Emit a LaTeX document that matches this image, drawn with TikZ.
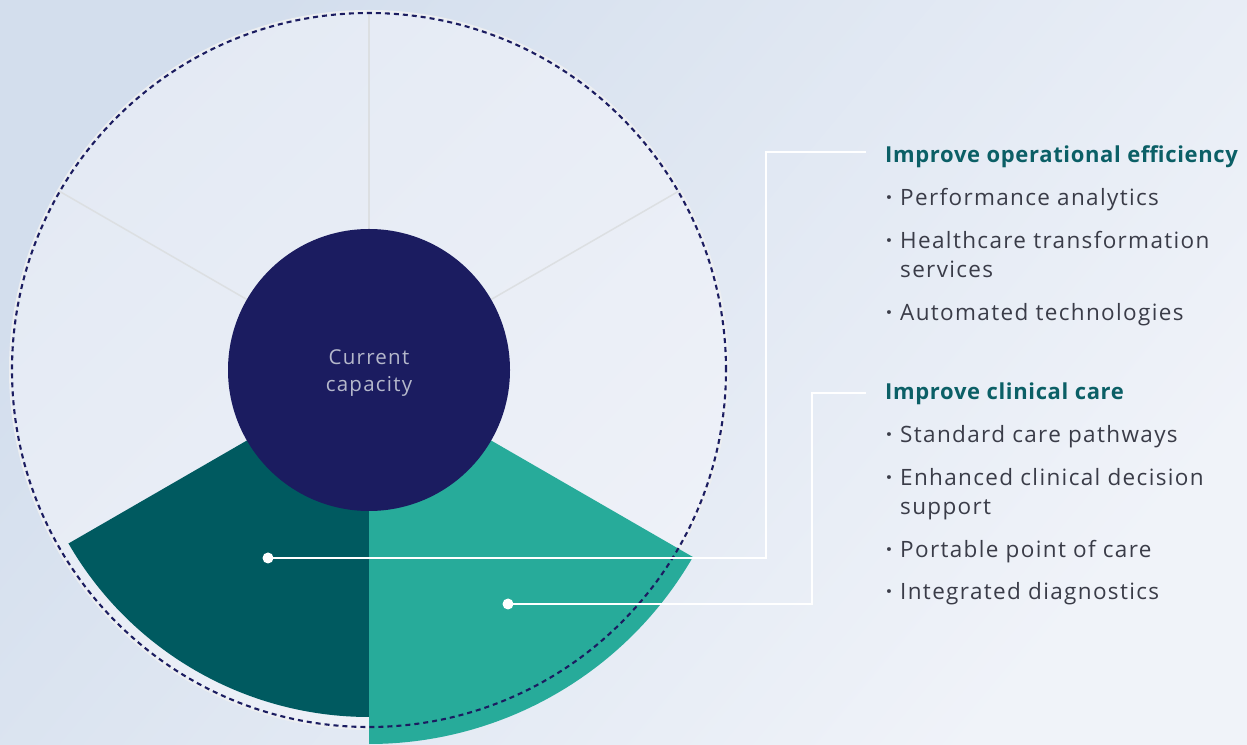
\documentclass[tikz,border=0pt]{standalone}
\usepackage{fontspec}
\usetikzlibrary{calc}
\setmainfont{Open Sans}
\newfontfamily\itemfont{Open Sans}[LetterSpace=6]
\newfontfamily\headfont{Open Sans}[LetterSpace=3]
\definecolor{bgA}{HTML}{D3DEED}
\definecolor{bgB}{HTML}{F0F3F9}
\definecolor{discA}{HTML}{E4EAF4}
\definecolor{discB}{HTML}{EEF1F8}
\definecolor{discedge}{HTML}{ECEEF1}
\definecolor{spoke}{HTML}{DCDFE2}
\definecolor{navy}{HTML}{1B1C60}
\definecolor{dteal}{HTML}{005A60}
\definecolor{lteal}{HTML}{27AB9A}
\definecolor{head}{HTML}{0B5F66}
\definecolor{itemc}{HTML}{3A3C48}
\definecolor{captxt}{HTML}{B5B8CB}
\tikzset{
  conn/.style={white, line width=2.4pt},
  dotnode/.style={circle, fill=white, inner sep=0pt, minimum size=11pt},
  headnode/.style={anchor=base west, inner sep=0pt, text=head, font=\headfont\fontsize{22}{26}\selectfont\bfseries},
  itemnode/.style={anchor=base west, inner sep=0pt, text=itemc, font=\itemfont\fontsize{22.5}{26}\selectfont},
  bulnode/.style={anchor=base, inner sep=0pt, text=itemc, font=\itemfont\fontsize{22.5}{26}\selectfont\bfseries},
}
\begin{document}
\begin{tikzpicture}[x=1pt,y=1pt]
\useasboundingbox (0,0) rectangle (1247,744);
\shade[top color=bgA, bottom color=bgB, shading angle=50] (0,0) rectangle (1247,744);
\coordinate (C) at (369,374);
% pale disc
\shade[top color=discA, bottom color=discB, shading angle=45, draw=discedge, line width=2pt] (C) circle[radius=359];
% spokes
\foreach \a in {90,30,150}{
  \draw[spoke, line width=1.5pt] ($(C)+(\a:141)$) -- ($(C)+(\a:358)$);
}
% sectors
\fill[dteal] (C) -- ++(210:347) arc[start angle=210, end angle=270, radius=347] -- cycle;
\fill[lteal] (C) -- ++(270:374) arc[start angle=270, end angle=330, radius=374] -- cycle;
% dashed ring
\draw[navy, line width=2.1pt, dash pattern=on 5pt off 4pt] (C) circle[radius=357];
% centre
\node[circle, fill=navy, minimum size=282pt, inner sep=0pt] (core) at (C) {};
\node[align=center, text=captxt, font=\itemfont\fontsize{20.5}{27.5}\selectfont] (cap) at (369,371) {Current\\capacity};
% connectors
\node[dotnode] (d1) at (268,186) {};
\node[dotnode] (d2) at (508,140) {};
\coordinate (k1) at (766,592);
\coordinate (e1) at (866,592);
\coordinate (k2) at (812,351);
\coordinate (e2) at (866,351);
\draw[conn] (d1.center) -| (k1) -- (e1);
\draw[conn] (d2.center) -| (k2) -- (e2);
% text group 1
\node[headnode] (h1) at (885,581) {Improve operational efficiency};
\node[bulnode] (b11) at (889,538) {·};
\node[itemnode] (i11) at (900,538) {Performance analytics};
\node[bulnode] (b12) at (889,495) {·};
\node[itemnode] (i12) at (900,495) {Healthcare transformation};
\node[itemnode] (i12b) at (900,466) {services};
\node[bulnode] (b13) at (889,423) {·};
\node[itemnode] (i13) at (900,423) {Automated technologies};
% text group 2
\node[headnode] (h2) at (885,344) {Improve clinical care};
\node[bulnode] (b21) at (889,301) {·};
\node[itemnode] (i21) at (900,301) {Standard care pathways};
\node[bulnode] (b22) at (889,258) {·};
\node[itemnode] (i22) at (900,258) {Enhanced clinical decision};
\node[itemnode] (i22b) at (900,229) {support};
\node[bulnode] (b23) at (889,186) {·};
\node[itemnode] (i23) at (900,186) {Portable point of care};
\node[bulnode] (b24) at (889,144) {·};
\node[itemnode] (i24) at (900,144) {Integrated diagnostics};
\end{tikzpicture}
\end{document}
